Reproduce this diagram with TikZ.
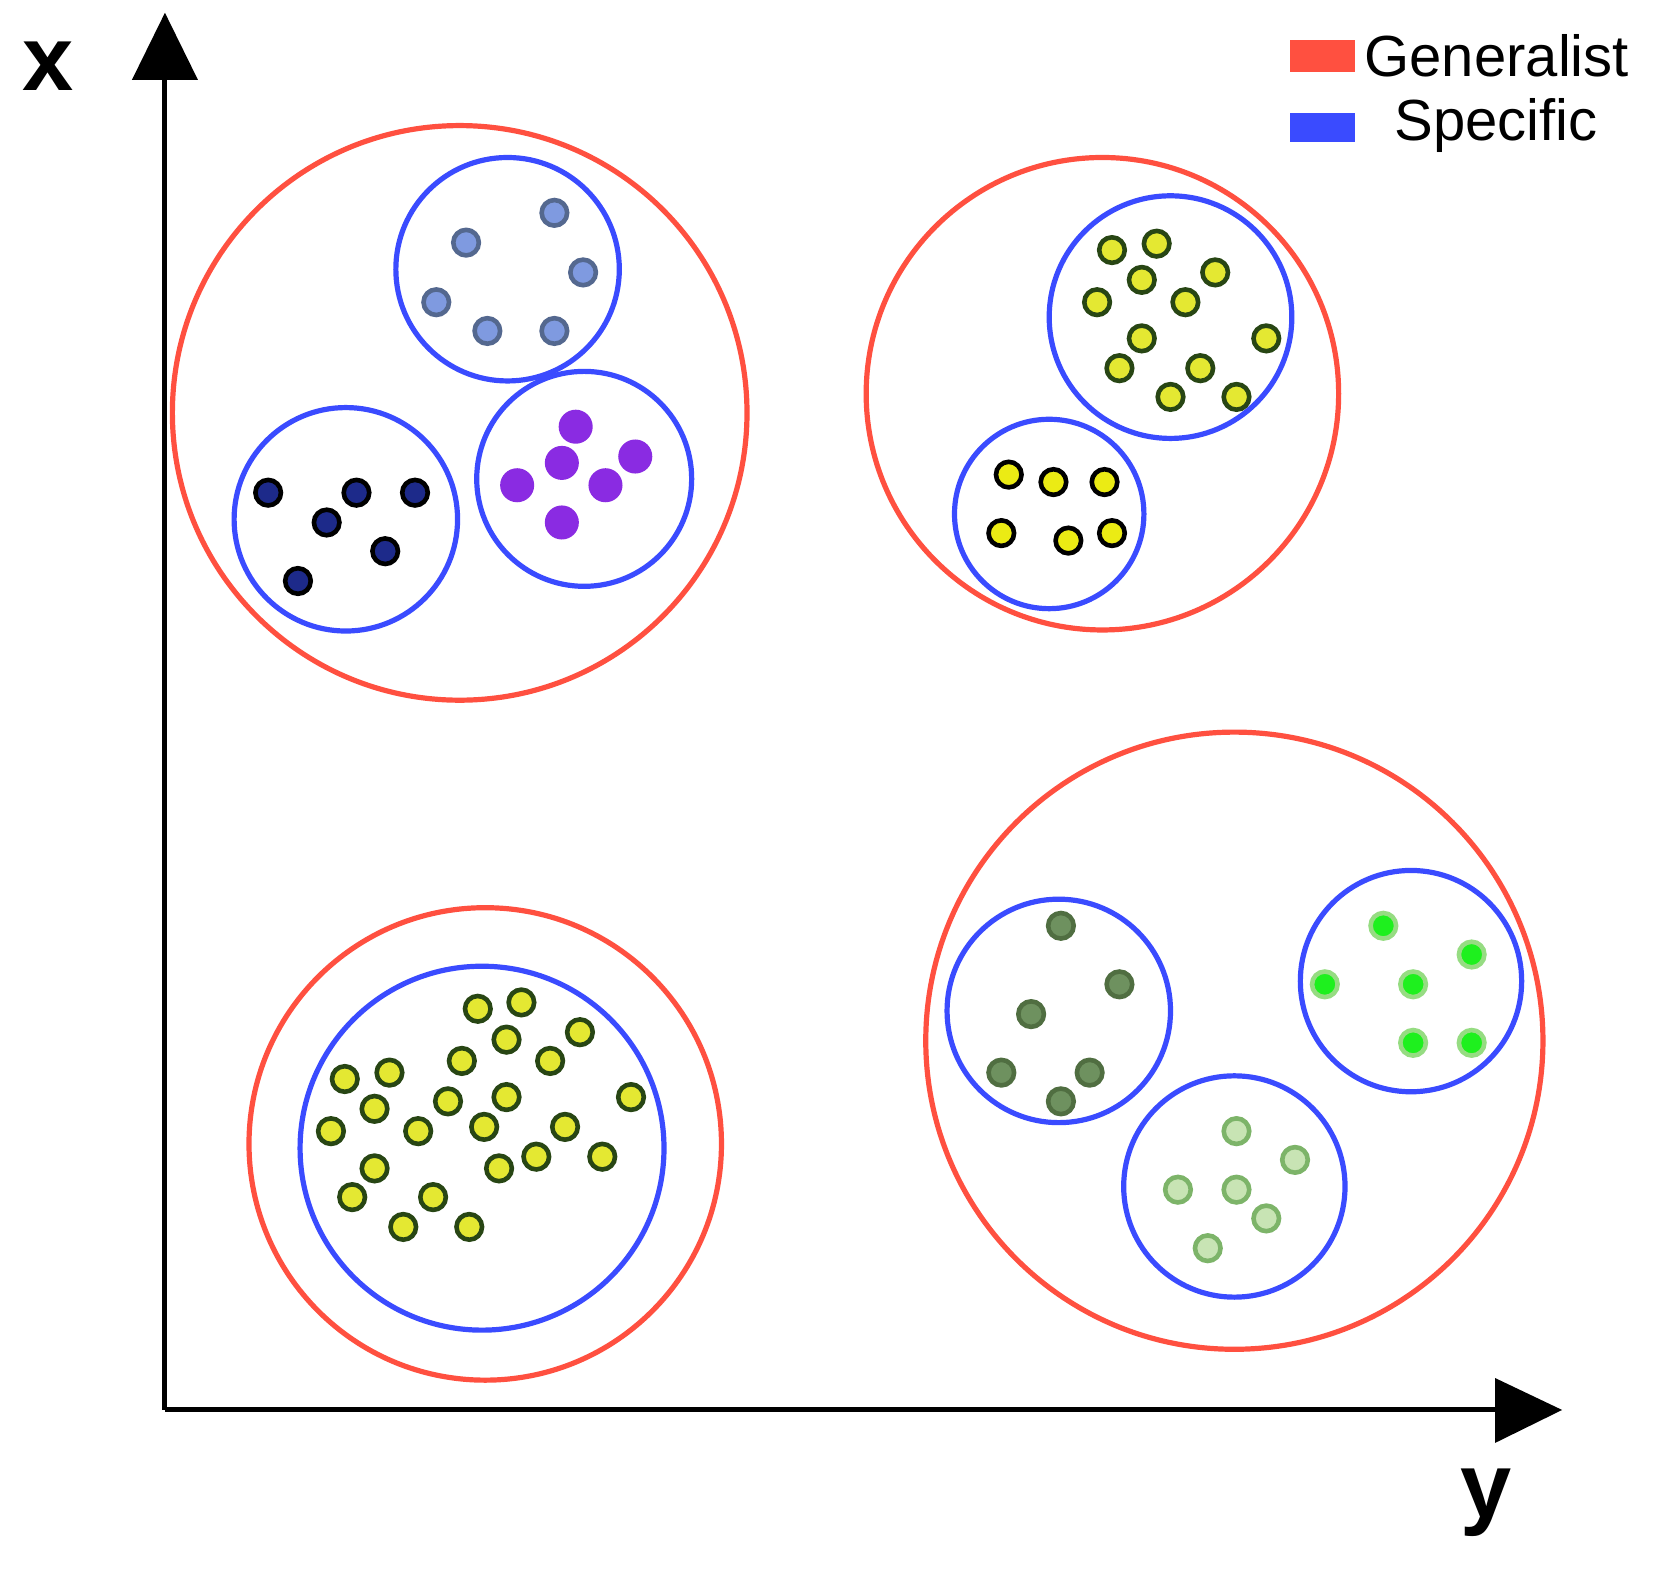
\documentclass[tikz,border=0pt]{standalone}
\usepackage{fontspec}
\setmainfont{Liberation Sans}
\definecolor{genc}{HTML}{FF5040}
\definecolor{specc}{HTML}{3A4BFF}
\definecolor{lbF}{RGB}{127,154,224}\definecolor{lbD}{RGB}{84,104,143}
\definecolor{nvF}{RGB}{29,42,138}
\definecolor{pu}{RGB}{138,43,226}
\definecolor{ygD}{RGB}{40,70,20}\definecolor{ygF}{RGB}{228,232,50}
\definecolor{ybF}{RGB}{235,235,20}
\definecolor{dgD}{RGB}{80,110,65}\definecolor{dgF}{RGB}{110,145,95}
\definecolor{bgD}{RGB}{150,220,130}\definecolor{bgF}{RGB}{30,240,30}
\definecolor{lgD}{RGB}{125,180,105}\definecolor{lgF}{RGB}{200,228,180}
\begin{document}
\begin{tikzpicture}[x=0.532pt,y=-0.532pt,
 gen/.style={draw=genc,line width=2.6pt},
 spec/.style={draw=specc,line width=2.6pt},
 dot/.style={line width=2.3pt}]
\useasboundingbox (0,0) rectangle (1560,1476.4);
% axes
\draw[line width=2.5pt] (155,1325) -- (155,60);
\draw[line width=2.5pt] (155,1325) -- (1420,1325);
\fill (155,12) -- (186,75) -- (124,75) -- cycle;
\fill (1468,1325) -- (1405,1295) -- (1405,1356) -- cycle;
\node[font=\fontsize{46}{50}\selectfont\bfseries] at (45,62) {x};
\node[font=\fontsize{46}{50}\selectfont\bfseries] at (1397,1412) {y};
% legend
\fill[genc] (1212,38) rectangle (1273,68);
\fill[specc] (1212,106) rectangle (1273,133);
\node[anchor=west,inner sep=0,font=\fontsize{29}{32}\selectfont] at (1282,52) {Generalist};
\node[anchor=west,inner sep=0,font=\fontsize{29}{32}\selectfont] at (1310,118) {Specific};
% clusters
\draw[gen] (432,388) circle (270);
\draw[spec] (477,253) circle (105);
\draw[spec] (325,488) circle (105);
\draw[spec] (549,450) circle (101);
\draw[gen] (1036,370) circle (222);
\draw[spec] (1100,298) circle (114);
\draw[spec] (986,483) circle (89);
\draw[gen] (456,1075) circle (222);
\draw[spec] (453,1079) circle (171);
\draw[gen] (1160,978) circle (290);
\draw[spec] (995,950) circle (105);
\draw[spec] (1326,922) circle (104);
\draw[spec] (1160,1115) circle (104);
% dots
\foreach \p in {(521,200),(438,228),(548,256),(410,284),(458,311),(521,311)}
  \draw[dot,draw=lbD,fill=lbF] \p circle (12);
\foreach \p in {(252,463),(335,463),(390,463),(307,491),(362,518),(280,546)}
  \draw[dot,draw=black,fill=nvF] \p circle (12);
\foreach \p in {(541,401),(597,429),(528,435),(486,456),(569,456),(528,491)}
  \fill[pu] \p circle (16);
\foreach \p in {(1045,235),(1087,229),(1142,256),(1073,263),(1031,284),(1114,284),(1190,318),(1073,318),(1052,346),(1128,346),(1100,373),(1162,373),
 (449,948),(490,942),(545,970),(476,977),(434,997),(517,997),(324,1014),(366,1008),(352,1042),(421,1035),(476,1031),(593,1031),(311,1063),(393,1063),(455,1059),(531,1059),(352,1098),(469,1098),(504,1087),(566,1087),(331,1125),(407,1125),(379,1153),(441,1153)}
  \draw[dot,draw=ygD,fill=ygF] \p circle (12);
\foreach \p in {(948,446),(990,453),(1038,453),(941,501),(1004,508),(1045,501)}
  \draw[dot,draw=black,fill=ybF] \p circle (12);
\foreach \p in {(997,870),(1052,925),(969,953),(941,1008),(1024,1008),(997,1035)}
  \draw[dot,draw=dgD,fill=dgF] \p circle (12);
\foreach \p in {(1300,870),(1383,897),(1245,925),(1328,925),(1328,980),(1383,980)}
  \draw[dot,draw=bgD,fill=bgF] \p circle (12);
\foreach \p in {(1162,1063),(1217,1090),(1107,1118),(1162,1118),(1190,1145),(1135,1173)}
  \draw[dot,draw=lgD,fill=lgF] \p circle (12);
\end{tikzpicture}
\end{document}
